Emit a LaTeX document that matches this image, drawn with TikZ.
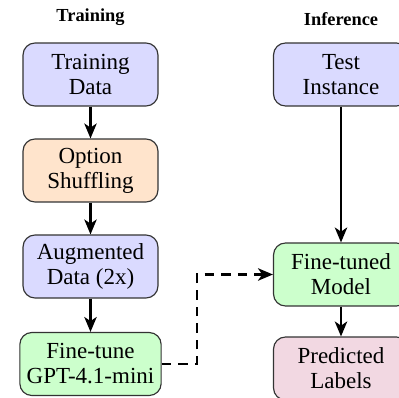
\documentclass[tikz,border=0pt]{standalone}
\usepackage{fontspec}
\setmainfont{Liberation Serif}
\usetikzlibrary{arrows.meta}
\definecolor{bluebox}{RGB}{218,218,255}
\definecolor{orangebox}{RGB}{255,228,204}
\definecolor{greenbox}{RGB}{204,255,204}
\definecolor{pinkbox}{RGB}{242,216,226}
\begin{document}
\begin{tikzpicture}[x=0.435pt,y=-0.435pt,
  box/.style={draw=black!80, line width=0.5pt, rounded corners=5.2pt, minimum width=58.7pt, minimum height=27.4pt, align=center, inner xsep=3pt, font=\fontsize{10}{10.9}\selectfont},
  title/.style={anchor=south, inner sep=0pt, font=\fontsize{8}{9}\selectfont\bfseries},
  arr/.style={-{Stealth[length=6.5pt,width=5.4pt,inset=1.8pt]}, line width=0.95pt},
  darr/.style={arr, dash pattern=on 4.2pt off 3pt}]
\useasboundingbox (0,0) rectangle (398,398);
\node[title] (tt) at (90.5,26) {Training};
\node[title] (it) at (341,26) {Inference};
\node[box, fill=bluebox] (td) at (90.5,74.5) {Training\\Data};
\node[box, fill=orangebox] (os) at (90.5,170.5) {Option\\Shuffling};
\node[box, fill=bluebox] (ad) at (90.5,266.5) {Augmented\\Data (2x)};
\node[box, fill=greenbox] (ft) at (90.5,364) {Fine-tune\\GPT-4.1-mini};
\node[box, fill=bluebox] (ti) at (341,74.5) {Test\\Instance};
\node[box, fill=greenbox] (fm) at (341,274.5) {Fine-tuned\\Model};
\node[box, fill=pinkbox] (pl) at (341,368.5) {Predicted\\Labels};
\coordinate (bend) at (196.7,364);
\draw[arr] (td) -- (os);
\draw[arr] (os) -- (ad);
\draw[arr] (ad) -- (ft);
\draw[arr] (ti) -- (fm);
\draw[arr] (fm) -- (pl);
\draw[darr] (ft.east) -- (bend) |- (fm.west);
\end{tikzpicture}
\end{document}
